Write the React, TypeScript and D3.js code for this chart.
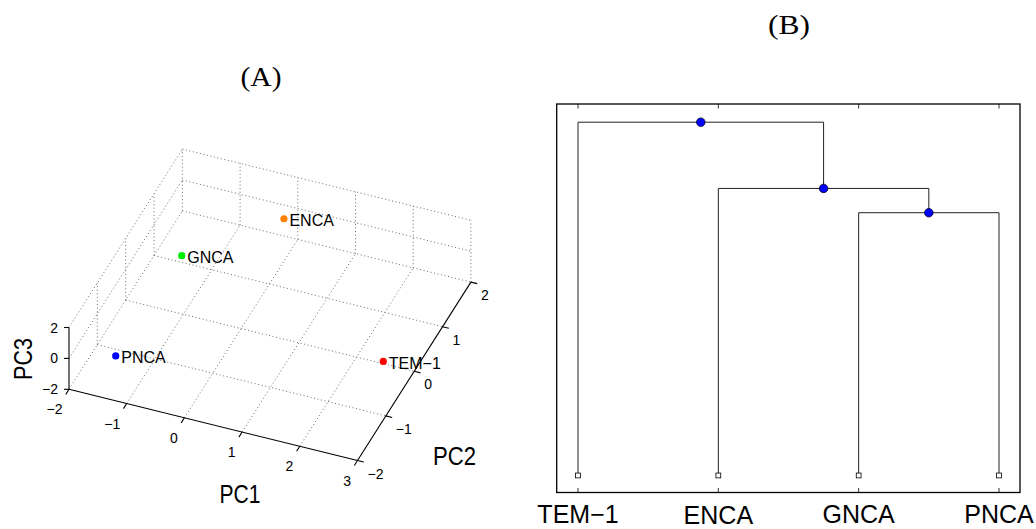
import React from "react";
import * as d3 from "d3";

// ---- PCA scores ----
const sampleNames = ["PNCA", "GNCA", "ENCA", "TEM−1"];
const sampleColors = ["#0000ff", "#00ee00", "#ff8000", "#ff0000"];
const pc1Scores = [-1.5, -1.2, 0.0, 2.7];
const pc2Scores = [-1.37, 0.35, 1.51, -0.48];
const pc3Scores = [-1.2, 0.6, 0.75, -0.25];

const pc1Ticks = [-2, -1, 0, 1, 2, 3];
const pc2Ticks = [-2, -1, 0, 1, 2];
const pc3Ticks = [-2, 0, 2];

// ---- Hierarchical clustering ----
const leafOrder = ["TEM−1", "ENCA", "GNCA", "PNCA"];
// each merge: two members (leaf names or earlier merge ids) and its height
const mergeIds = ["c1", "c2", "c3"];
const mergeLeft = ["GNCA", "ENCA", "TEM−1"];
const mergeRight = ["PNCA", "c1", "c2"];
const mergeHeights = [2.975, 3.25, 4.0];

const W = 1036;
const H = 529;
const SANS = "'Liberation Sans', Arial, Helvetica, sans-serif";
const SERIF = "'Liberation Serif', 'Times New Roman', serif";

// 3D box geometry (oblique view): origin corner and on-screen axis vectors
const ORIGIN: [number, number] = [69, 389.3];
const AXIS1: [number, number] = [288.5, 71.2];
const AXIS2: [number, number] = [113.4, -178.4];
const AXIS3: [number, number] = [0, -61.8];

const s1 = d3.scaleLinear().domain([-2, 3]).range([0, 1]);
const s2 = d3.scaleLinear().domain([-2, 2]).range([0, 1]);
const s3 = d3.scaleLinear().domain([-2, 2]).range([0, 1]);

function project(a: number, b: number, c: number): [number, number] {
  const f1 = s1(a), f2 = s2(b), f3 = s3(c);
  return [
    ORIGIN[0] + f1 * AXIS1[0] + f2 * AXIS2[0] + f3 * AXIS3[0],
    ORIGIN[1] + f1 * AXIS1[1] + f2 * AXIS2[1] + f3 * AXIS3[1],
  ];
}

function unit(v: [number, number], len: number): [number, number] {
  const n = Math.hypot(v[0], v[1]);
  return [(v[0] / n) * len, (v[1] / n) * len];
}

function Seg({ p, q, dotted }: { p: [number, number]; q: [number, number]; dotted?: boolean }) {
  return (
    <line
      x1={p[0]} y1={p[1]} x2={q[0]} y2={q[1]}
      stroke={dotted ? "#6a6a6a" : "#000"}
      strokeWidth={dotted ? 1 : 1.1}
      strokeDasharray={dotted ? "1 2.6" : undefined}
    />
  );
}

function PcaPanel() {
  const [a0, a1] = d3.extent(pc1Ticks) as [number, number];
  const [b0, b1] = d3.extent(pc2Ticks) as [number, number];
  const [c0, c1] = d3.extent(pc3Ticks) as [number, number];

  const grid: JSX.Element[] = [];
  // floor (PC3 = min)
  pc1Ticks.slice(0, -1).forEach((a, i) =>
    grid.push(<Seg key={`f1${i}`} p={project(a, b0, c0)} q={project(a, b1, c0)} dotted />)
  );
  pc2Ticks.slice(1).forEach((b, i) =>
    grid.push(<Seg key={`f2${i}`} p={project(a0, b, c0)} q={project(a1, b, c0)} dotted />)
  );
  // back wall (PC2 = max)
  pc1Ticks.forEach((a, i) =>
    grid.push(<Seg key={`b1${i}`} p={project(a, b1, c0)} q={project(a, b1, c1)} dotted />)
  );
  pc3Ticks.slice(1).forEach((c, i) =>
    grid.push(<Seg key={`b3${i}`} p={project(a0, b1, c)} q={project(a1, b1, c)} dotted />)
  );
  // side wall (PC1 = min)
  pc2Ticks.slice(1, -1).forEach((b, i) =>
    grid.push(<Seg key={`s2${i}`} p={project(a0, b, c0)} q={project(a0, b, c1)} dotted />)
  );
  pc3Ticks.slice(1).forEach((c, i) =>
    grid.push(<Seg key={`s3${i}`} p={project(a0, b0, c)} q={project(a0, b1, c)} dotted />)
  );

  const t1 = unit([-AXIS2[0], -AXIS2[1]], 6);
  const t2 = unit(AXIS1, 6.5);
  const t3: [number, number] = [-5, 0];

  return (
    <g>
      <text x={261} y={86} textAnchor="middle" fontFamily={SERIF} fontSize={27}
        textLength={41} lengthAdjust="spacingAndGlyphs">(A)</text>
      {grid}
      {/* axes */}
      <Seg p={project(a0, b0, c0)} q={project(a1, b0, c0)} />
      <Seg p={project(a1, b0, c0)} q={project(a1, b1, c0)} />
      <Seg p={project(a0, b0, c0)} q={project(a0, b0, c1)} />
      {pc1Ticks.map((a) => {
        const p = project(a, b0, c0);
        return (
          <g key={`t1${a}`}>
            <Seg p={p} q={[p[0] + t1[0], p[1] + t1[1]]} />
            <text x={p[0] - 6.5} y={p[1] + 25} textAnchor="end" fontFamily={SANS} fontSize={14}>
              {a < 0 ? `−${-a}` : a}
            </text>
          </g>
        );
      })}
      {pc2Ticks.map((b) => {
        const p = project(a1, b, c0);
        return (
          <g key={`t2${b}`}>
            <Seg p={p} q={[p[0] + t2[0], p[1] + t2[1]]} />
            <text x={p[0] + 10} y={p[1] + 18} textAnchor="start" fontFamily={SANS} fontSize={14}>
              {b < 0 ? `−${-b}` : b}
            </text>
          </g>
        );
      })}
      {pc3Ticks.map((c) => {
        const p = project(a0, b0, c);
        return (
          <g key={`t3${c}`}>
            <Seg p={p} q={[p[0] + t3[0], p[1] + t3[1]]} />
            <text x={p[0] - 11} y={p[1] + 5} textAnchor="end" fontFamily={SANS} fontSize={14}>
              {c < 0 ? `−${-c}` : c}
            </text>
          </g>
        );
      })}
      <text x={240} y={503} textAnchor="middle" fontFamily={SANS} fontSize={25}
        textLength={41} lengthAdjust="spacingAndGlyphs">PC1</text>
      <text x={454.5} y={464.5} textAnchor="middle" fontFamily={SANS} fontSize={25}
        textLength={43} lengthAdjust="spacingAndGlyphs">PC2</text>
      <text transform="translate(32,359) rotate(-90)" textAnchor="middle" fontFamily={SANS}
        fontSize={25} textLength={42} lengthAdjust="spacingAndGlyphs">PC3</text>
      {sampleNames.map((n, i) => {
        const p = project(pc1Scores[i], pc2Scores[i], pc3Scores[i]);
        return (
          <g key={n}>
            <circle cx={p[0]} cy={p[1]} r={3.6} fill={sampleColors[i]} />
            <text x={p[0] + 5.5} y={p[1] + 7.5} fontFamily={SANS} fontSize={16}>{n}</text>
          </g>
        );
      })}
    </g>
  );
}

function DendrogramPanel() {
  const left = 556.7, right = 1020, top = 104, bottom = 492.5;
  const x = d3.scalePoint<string>().domain(leafOrder).range([578, 999]);
  const y = d3.scaleLinear().domain([-0.193, 4.206]).range([bottom, top]);

  const pos = new Map<string, { x: number; h: number }>();
  leafOrder.forEach((n) => pos.set(n, { x: x(n) as number, h: 0 }));
  const links: JSX.Element[] = [];
  const nodes: JSX.Element[] = [];
  mergeIds.forEach((id, i) => {
    const a = pos.get(mergeLeft[i])!;
    const b = pos.get(mergeRight[i])!;
    const h = mergeHeights[i];
    const d = `M${a.x},${y(a.h)}V${y(h)}H${b.x}V${y(b.h)}`;
    links.push(<path key={id} d={d} fill="none" stroke="#222" strokeWidth={1} />);
    const cx = (a.x + b.x) / 2;
    pos.set(id, { x: cx, h });
    nodes.push(<circle key={`n${id}`} cx={cx} cy={y(h)} r={4.3} fill="#0000ff" stroke="#000" strokeWidth={0.7} />);
  });

  return (
    <g>
      <text x={789} y={34} textAnchor="middle" fontFamily={SERIF} fontSize={27}
        textLength={42} lengthAdjust="spacingAndGlyphs">(B)</text>
      <rect x={left} y={top} width={right - left} height={bottom - top} fill="none" stroke="#000" strokeWidth={1.3} />
      {leafOrder.map((n) => (
        <g key={`tk${n}`}>
          <line x1={x(n)} x2={x(n)} y1={top} y2={top + 4.5} stroke="#000" strokeWidth={0.8} />
          <line x1={x(n)} x2={x(n)} y1={bottom} y2={bottom - 4.5} stroke="#000" strokeWidth={0.8} />
        </g>
      ))}
      {links}
      {leafOrder.map((n) => (
        <rect key={`lf${n}`} x={(x(n) as number) - 2.4} y={y(0) - 2.4} width={4.8} height={4.8}
          fill="#fff" stroke="#000" strokeWidth={0.8} />
      ))}
      {nodes}
      {leafOrder.map((n) => (
        <text key={`lb${n}`} x={x(n)} y={n === "ENCA" ? 524 : 522.5} textAnchor="middle"
          fontFamily={SANS} fontSize={25}>{n}</text>
      ))}
    </g>
  );
}

export default function App() {
  return (
    <svg width={W} height={H} style={{ position: "absolute", left: 0, top: 0, background: "#fff" }}>
      <rect width={W} height={H} fill="#fff" />
      <PcaPanel />
      <DendrogramPanel />
    </svg>
  );
}
